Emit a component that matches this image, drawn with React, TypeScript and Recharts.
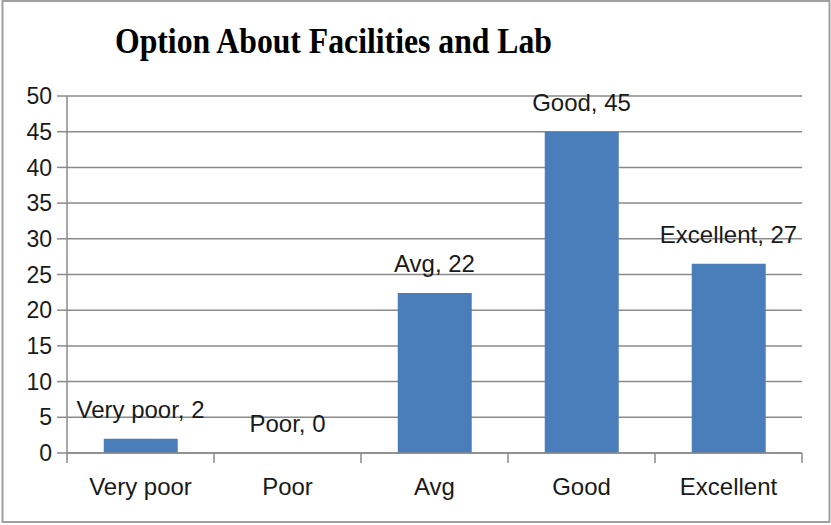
import React from "react";
import { ComposedChart, Bar, Line, XAxis, YAxis, CartesianGrid, LabelList } from "recharts";

const categories = ["Very poor", "Poor", "Avg", "Good", "Excellent"];
const responses = [2, 0, 22.4, 45, 26.5];
const yTicks = [0, 5, 10, 15, 20, 25, 30, 35, 40, 45, 50];
const title = "Option About Facilities and Lab";

const data = categories.map((c, i) => ({
  category: c,
  value: responses[i],
  label: `${c}, ${Math.round(responses[i])}`,
}));

const W = 831;
const H = 525;
const GRID = "#8a8a8a";
const TEXT = "#1a1a1a";
const FONT = "'Liberation Sans', Arial, sans-serif";
const BAR = "#4A7EBB";

const XTick = (props: any) => {
  const { x, y, payload, index, visibleTicksCount } = props;
  const half = payload && typeof payload.offset === "number" && payload.offset > 0 ? payload.offset : 73.5;
  const isLast = index === (visibleTicksCount ?? categories.length) - 1;
  return (
    <g>
      <line x1={x - half} x2={x - half} y1={y} y2={y + 10} stroke={GRID} strokeWidth={1.5} />
      {isLast && <line x1={x + half} x2={x + half} y1={y} y2={y + 10} stroke={GRID} strokeWidth={1.5} />}
      <text x={x} y={y + 42} textAnchor="middle" fontSize={24} fontFamily={FONT} fill={TEXT}>
        {payload.value}
      </text>
    </g>
  );
};

const renderLabel = (props: any) => {
  const { x, y, value } = props;
  return (
    <text
      x={Number(x)}
      y={Number(y) - 21}
      textAnchor="middle"
      fontSize={24}
      fontFamily={FONT}
      fill={TEXT}
    >
      {String(value)}
    </text>
  );
};

export default function App() {
  return (
    <div style={{ position: "absolute", left: 0, top: 0, width: W, height: H, background: "#fff" }}>
      <ComposedChart
        width={W}
        height={H}
        data={data}
        margin={{ top: 96, right: 29, left: 7, bottom: 32 }}
        barCategoryGap="25%"
      >
        <CartesianGrid vertical={false} stroke={GRID} strokeWidth={1.5} />
        <XAxis
          dataKey="category"
          height={40}
          axisLine={{ stroke: GRID, strokeWidth: 1.5 }}
          tickLine={false}
          tickSize={0}
          tickMargin={0}
          interval={0}
          tick={<XTick />}
        />
        <YAxis
          width={60}
          domain={[0, 50]}
          ticks={yTicks}
          interval={0}
          axisLine={{ stroke: GRID, strokeWidth: 1.5 }}
          tickLine={{ stroke: GRID, strokeWidth: 1.5 }}
          tickSize={10}
          tickMargin={5}
          tick={{ fontSize: 23, fontFamily: FONT, fill: TEXT }}
        />
        <Bar dataKey="value" fill={BAR} isAnimationActive={false} />
        <Line
          dataKey="value"
          stroke="none"
          dot={false}
          activeDot={false}
          legendType="none"
          isAnimationActive={false}
        >
          <LabelList dataKey="label" content={renderLabel} />
        </Line>
      </ComposedChart>
      <svg
        width={W}
        height={H}
        style={{ position: "absolute", left: 0, top: 0, pointerEvents: "none" }}
      >
        <rect x={2.5} y={1} width={827} height={521} fill="none" stroke="#a0a0a0" strokeWidth={2} />
        <text
          x={115}
          y={53}
          fontFamily="'Liberation Serif', 'Times New Roman', serif"
          fontWeight="bold"
          fontSize={35}
          fill="#000"
          textLength={437}
          lengthAdjust="spacingAndGlyphs"
        >
          {title}
        </text>
      </svg>
    </div>
  );
}
